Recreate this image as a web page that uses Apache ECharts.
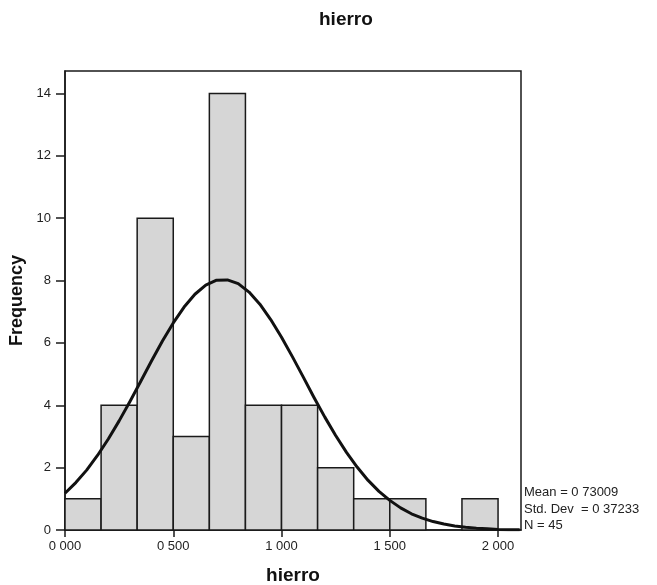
<!DOCTYPE html>
<html>
<head>
<meta charset="utf-8">
<script src="https://cdn.jsdelivr.net/npm/echarts@6/dist/echarts.min.js"></script>
<style>
  html, body { margin: 0; padding: 0; background: #fff; }
  #chart { width: 657px; height: 585px; }
</style>
</head>
<body>
<div id="chart"></div>
<script>
// bin edges (width 1/6) and counts
var binStarts = [0, 0.1667, 0.3333, 0.5, 0.6667, 0.8333, 1.0, 1.1667, 1.3333, 1.5, 1.6667, 1.8333];
var binEnds   = [0.1667, 0.3333, 0.5, 0.6667, 0.8333, 1.0, 1.1667, 1.3333, 1.5, 1.6667, 1.8333, 2.0];
var counts    = [1, 4, 10, 3, 14, 4, 4, 2, 1, 1, 0, 1];

// fitted normal curve (every 0.05)
var curveX = [0, 0.05, 0.1, 0.15, 0.2, 0.25, 0.3, 0.35, 0.4, 0.45, 0.5, 0.55, 0.6, 0.65, 0.7, 0.75, 0.8, 0.85,
              0.9, 0.95, 1.0, 1.05, 1.1, 1.15, 1.2, 1.25, 1.3, 1.35, 1.4, 1.45, 1.5, 1.55, 1.6, 1.65, 1.7, 1.75,
              1.8, 1.85, 1.9, 1.95, 2.0, 2.05, 2.1];
var curveY = [1.18, 1.52, 1.92, 2.39, 2.92, 3.50, 4.12, 4.77, 5.43, 6.06, 6.64, 7.15, 7.56, 7.85, 8.01, 8.02, 7.90, 7.63,
              7.24, 6.75, 6.18, 5.56, 4.91, 4.25, 3.62, 3.03, 2.49, 2.01, 1.59, 1.24, 0.95, 0.71, 0.52, 0.38, 0.27, 0.19,
              0.13, 0.09, 0.06, 0.04, 0.02, 0.01, 0.01];

var xTickLabels = ['0 000', '0 500', '1 000', '1 500', '2 000'];
var yTickLabels = ['0', '2', '4', '6', '8', '10', '12', '14'];
var statLines = ['Mean = 0 73009', 'Std. Dev  = 0 37233', 'N = 45'];

var font = 'Liberation Sans, Arial, sans-serif';
var chart = echarts.init(document.getElementById('chart'));

chart.setOption({
  animation: false,
  title: {
    text: 'hierro',
    left: 314,
    top: 5,
    textStyle: { fontFamily: font, fontSize: 19, fontWeight: 'bold', color: '#111' }
  },
  grid: {
    left: 65, right: 136, top: 71, bottom: 55,
    containLabel: false,
    outerBoundsMode: 'none',
    show: true, borderColor: '#1a1a1a', borderWidth: 1.5, backgroundColor: '#fff'
  },
  xAxis: {
    type: 'value',
    min: 0, max: 2.106, interval: 0.5,
    name: 'hierro',
    nameLocation: 'middle',
    nameGap: 36,
    nameTextStyle: { fontFamily: font, fontSize: 19, fontWeight: 'bold', color: '#111' },
    splitLine: { show: false },
    axisLine: { show: true, lineStyle: { color: '#1a1a1a', width: 1.5 } },
    axisTick: { show: true, length: 7, lineStyle: { color: '#1a1a1a', width: 1.5 } },
    axisLabel: {
      fontFamily: font, fontSize: 13, color: '#222', margin: 10,
      showMaxLabel: false,
      formatter: function (v) {
        var i = Math.round(v / 0.5);
        return Math.abs(v - i * 0.5) < 1e-6 ? (xTickLabels[i] || '') : '';
      }
    }
  },
  yAxis: {
    type: 'value',
    min: 0, max: 14.72, interval: 2,
    name: 'Frequency',
    nameLocation: 'middle',
    nameGap: 38,
    nameTextStyle: { fontFamily: font, fontSize: 18, fontWeight: 'bold', color: '#111' },
    splitLine: { show: false },
    axisLine: { show: true, lineStyle: { color: '#1a1a1a', width: 1.5 } },
    axisTick: { show: true, length: 9, lineStyle: { color: '#1a1a1a', width: 1.5 } },
    axisLabel: {
      fontFamily: font, fontSize: 13, color: '#222', margin: 14,
      showMaxLabel: false,
      formatter: function (v) {
        var i = Math.round(v / 2);
        return Math.abs(v - i * 2) < 1e-6 ? (yTickLabels[i] || '') : '';
      }
    }
  },
  graphic: statLines.map(function (t, i) {
    return {
      type: 'text', left: 524, top: 486 + i * 16.5,
      style: { text: t, fontFamily: font, fontSize: 13, fill: '#222' }
    };
  }),
  series: [
    {
      type: 'custom',
      data: binStarts.map(function (s, i) { return [s, binEnds[i], counts[i]]; }),
      encode: { x: [0, 1], y: 2 },
      renderItem: function (params, api) {
        if (api.value(2) <= 0) return null;
        var p0 = api.coord([api.value(0), 0]);
        var p1 = api.coord([api.value(1), api.value(2)]);
        return {
          type: 'rect',
          shape: { x: p0[0], y: p1[1], width: p1[0] - p0[0], height: p0[1] - p1[1] },
          style: { fill: '#d6d6d6', stroke: '#1a1a1a', lineWidth: 1.5 }
        };
      },
      z: 2
    },
    {
      type: 'line',
      data: curveX.map(function (x, i) { return [x, curveY[i]]; }),
      smooth: false,
      showSymbol: false,
      lineStyle: { color: '#111', width: 3, join: 'round' },
      z: 3
    }
  ]
});
</script>
</body>
</html>
